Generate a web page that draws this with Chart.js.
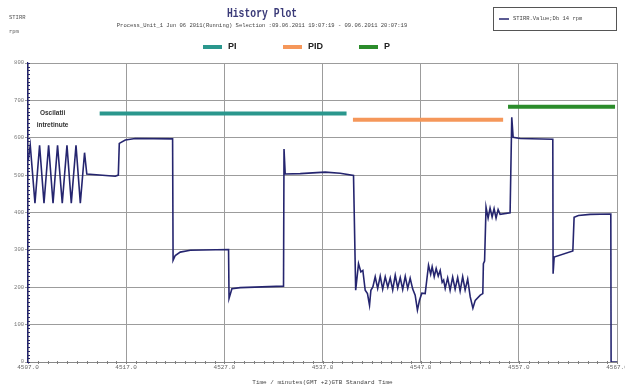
<!DOCTYPE html>
<html>
<head>
<meta charset="utf-8">
<script src="https://cdn.jsdelivr.net/npm/chart.js@4.4.0/dist/chart.umd.min.js"></script>
<style>
  body { margin: 0; background: #fff; }
  canvas { display: block; }
</style>
</head>
<body>
<canvas id="historyChart" width="625" height="387"></canvas>
<script>
// Sumbu waktu (menit) dan nilai STIRR (rpm)
const xMin = 4507, xMax = 4567, xStep = 10;
const yMin = 0, yMax = 800, yStep = 100;

const stirrTimes = [
  4507.03, 4507.23, 4507.71, 4508.18, 4508.63, 4509.10, 4509.55, 4510.01, 4510.49, 4510.97, 4511.41, 4511.89, 4512.33, 4512.76, 4512.99,
  4515.89, 4516.20, 4516.30, 4516.91, 4517.93, 4521.73, 4521.78, 4522.00, 4522.51, 4523.53, 4527.43, 4527.48, 4527.77, 4528.62,
  4533.03, 4533.08, 4533.20, 4534.73, 4537.27, 4538.80, 4540.16,
  4540.38, 4540.67, 4540.91, 4541.11, 4541.35, 4541.58, 4541.79, 4541.93, 4542.13,
  4542.37, 4542.62, 4542.88, 4543.13, 4543.39, 4543.65, 4543.90, 4544.15, 4544.41, 4544.66, 4544.92, 4545.17, 4545.43, 4545.68, 4545.93, 4546.19,
  4546.44, 4546.67, 4546.88, 4547.12, 4547.46, 4547.80, 4548.02, 4548.17, 4548.38, 4548.58, 4548.79, 4548.99, 4549.19, 4549.34,
  4549.50, 4549.75, 4550.00, 4550.26, 4550.51, 4550.77, 4551.02, 4551.28, 4551.53, 4551.79,
  4552.05, 4552.32, 4552.56, 4553.07, 4553.33, 4553.39, 4553.51,
  4553.66, 4553.87, 4554.07, 4554.28, 4554.48, 4554.68, 4554.89, 4555.09, 4556.11,
  4556.28, 4556.42, 4557.13, 4560.46, 4560.49, 4560.60, 4562.50, 4562.63, 4563.07, 4564.26, 4566.37, 4566.40, 4567.0
];
const stirrValues = [
  540, 580, 425, 580, 425, 580, 425, 580, 425, 580, 425, 580, 425, 560, 503,
  497, 500, 585, 594, 598, 597, 272, 285, 294, 299, 301, 170, 196, 199,
  203, 570, 503, 504, 508, 505, 499,
  192, 263, 241, 245, 192, 183, 152, 192, 201,
  228, 197, 230, 195, 228, 200, 225, 193, 232, 198, 226, 194, 229, 197, 224, 195,
  179, 139, 165, 184, 183, 259, 235, 255, 228, 250, 230, 245, 213, 219,
  197, 225, 192, 227, 195, 226, 190, 228, 193, 222,
  174, 144, 165, 179, 183, 263, 270,
  414, 385, 412, 388, 410, 385, 408, 395, 399,
  655, 601, 598, 596, 236, 281, 297, 387, 392, 395, 396, 0, 0
];

// Fase regulator (PI, PID, P)
const phaseNames = ["PI", "PID", "P"];
const phaseStart = [4514.3, 4540.1, 4555.9];
const phaseEnd = [4539.45, 4555.4, 4566.8];
const phaseLevel = [665, 648, 683];
const phaseColors = ["#2a978d", "#f5975a", "#2b8c2b"];

const lineColor = "#25256f";
const gridColor = "#9c9c9c";
const mono = '"Liberation Mono", "DejaVu Sans Mono", monospace';

const canvas = document.getElementById("historyChart");

if (canvas) {
  const ctx = canvas.getContext("2d");

  const datasets = [{
    label: "STIRR.Value;Db 14 rpm",
    data: stirrTimes.map((t, i) => ({ x: t, y: stirrValues[i] })),
    borderColor: lineColor,
    borderWidth: 1.6,
    pointRadius: 0,
    tension: 0
  }];
  phaseNames.forEach((name, i) => {
    datasets.push({
      label: name,
      data: [{ x: phaseStart[i], y: phaseLevel[i] }, { x: phaseEnd[i], y: phaseLevel[i] }],
      borderColor: phaseColors[i],
      borderWidth: 4,
      pointRadius: 0,
      borderCapStyle: "butt"
    });
  });

  // Teks judul, legenda dan tick kecil
  const decorPlugin = {
    id: "decor",
    afterDraw(chart) {
      const c = chart.ctx;
      const xs = chart.scales.x, ys = chart.scales.y;
      const area = chart.chartArea;
      c.save();

      // tick kecil sumbu x
      c.strokeStyle = "#808080";
      c.lineWidth = 1;
      for (let t = xMin; t <= xMax; t += 1) {
        const px = Math.round(xs.getPixelForValue(t)) + 0.5;
        c.beginPath(); c.moveTo(px, area.bottom - 1); c.lineTo(px, area.bottom + 2); c.stroke();
      }
      // tick kecil sumbu y
      c.strokeStyle = lineColor;
      for (let v = yMin; v <= yMax; v += 10) {
        const py = Math.round(ys.getPixelForValue(v)) + 0.5;
        c.beginPath(); c.moveTo(area.left - 1, py); c.lineTo(area.left + 2, py); c.stroke();
      }

      // judul (huruf dipadatkan)
      c.textAlign = "center";
      c.textBaseline = "middle";
      c.save();
      c.translate(262, 14);
      c.scale(0.75, 1.05);
      c.fillStyle = "#3a3a78";
      c.font = "bold 13px " + mono;
      c.fillText("History Plot", 0, 0);
      c.restore();
      c.fillStyle = "#444";
      c.font = "5.5px " + mono;
      c.fillText("Process_Unit_1 Jun 06 2011(Running) Selection :09.06.2011 19:07:19 - 09.06.2011 20:07:19", 262, 26);

      // label sumbu y kiri atas
      c.textAlign = "left";
      c.font = "5.5px " + mono;
      c.fillStyle = "#555";
      c.fillText("STIRR", 9, 18);
      c.fillText("rpm", 9, 32);

      // legenda fase
      const legX = [203, 283, 359];
      c.font = "bold 9px \"Liberation Sans\", Arial, sans-serif";
      phaseNames.forEach((name, i) => {
        c.strokeStyle = phaseColors[i];
        c.lineWidth = 4;
        c.beginPath(); c.moveTo(legX[i], 47); c.lineTo(legX[i] + 19, 47); c.stroke();
        c.fillStyle = "#222";
        c.fillText(name, legX[i] + 25, 47);
      });

      // kotak legenda kanan atas
      c.strokeStyle = "#555";
      c.lineWidth = 1;
      c.strokeRect(493.5, 7.5, 123, 23);
      c.strokeStyle = lineColor;
      c.lineWidth = 1.5;
      c.beginPath(); c.moveTo(499, 19); c.lineTo(509, 19); c.stroke();
      c.fillStyle = "#444";
      c.font = "5.5px " + mono;
      c.fillText(chart.data.datasets[0].label, 513, 19);

      // anotasi osilasi
      c.textAlign = "center";
      c.fillStyle = "#333";
      c.font = "bold 6.5px \"Liberation Sans Narrow\", \"Liberation Sans\", sans-serif";
      const ax = xs.getPixelForValue(4509.5);
      c.fillText("Oscilatii", ax, 113);
      c.fillText("intretinute", ax, 125);

      c.restore();
    }
  };

  const historyChart = new Chart(ctx, {
    type: "line",
    data: { datasets: datasets },
    options: {
      responsive: false,
      animation: false,
      devicePixelRatio: 1,
      layout: { padding: { top: 63, right: 8, left: 0, bottom: 0 } },
      plugins: {
        legend: { display: false },
        tooltip: { enabled: false }
      },
      scales: {
        x: {
          type: "linear",
          min: xMin,
          max: xMax,
          ticks: {
            stepSize: xStep,
            padding: 2,
            color: "#666",
            font: { family: mono, size: 6 },
            callback: (v) => v.toFixed(1),
            maxRotation: 0
          },
          grid: { color: gridColor, drawTicks: false },
          border: { color: "#888" },
          title: {
            display: true,
            text: "Time / minutes(GMT +2)GTB Standard Time",
            color: "#444",
            font: { family: mono, size: 6 },
            padding: { top: 0, bottom: 1 }
          },
          afterFit: (scale) => { scale.height = 25; scale.paddingLeft = 0; scale.paddingRight = 0; }
        },
        y: {
          min: yMin,
          max: yMax,
          ticks: {
            stepSize: yStep,
            padding: 1,
            color: "#777",
            font: { family: mono, size: 5.5 }
          },
          grid: { color: gridColor, tickLength: 3 },
          border: { color: lineColor, width: 1.2 },
          afterFit: (scale) => { scale.width = 28; }
        }
      }
    },
    plugins: [decorPlugin]
  });
}
</script>
</body>
</html>
